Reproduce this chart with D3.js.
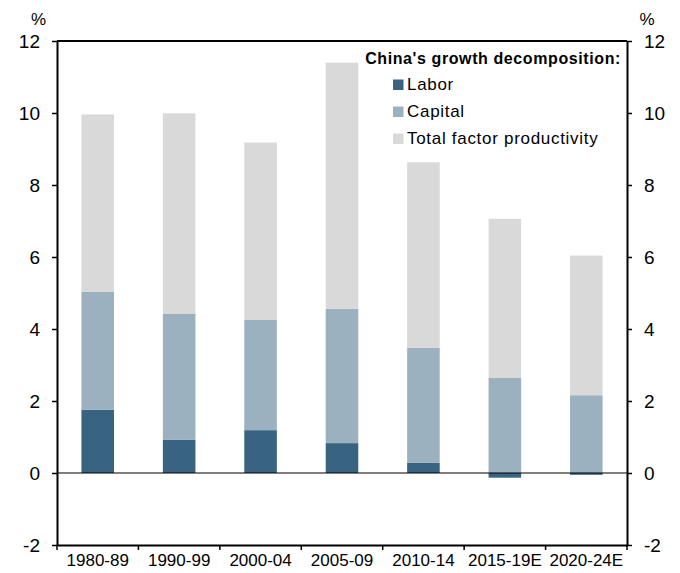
<!DOCTYPE html>
<html>
<head>
<meta charset="utf-8">
<script src="https://cdn.jsdelivr.net/npm/d3@7/dist/d3.min.js"></script>
<style>
  body { margin: 0; background: #fff; }
  svg { display: block; font-family: "Liberation Sans", Arial, sans-serif; }
</style>
</head>
<body>
<svg id="chart" width="680" height="573"></svg>
<script>
const categories = ["1980-89", "1990-99", "2000-04", "2005-09", "2010-14", "2015-19E", "2020-24E"];
const labor   = [1.76, 0.92, 1.19, 0.83, 0.28, -0.13, -0.05];
const capital = [3.27, 3.51, 3.06, 3.73, 3.20, 2.64, 2.16];
const tfp     = [4.93, 5.56, 4.93, 6.84, 5.15, 4.42, 3.88];
const yTicks  = [-2, 0, 2, 4, 6, 8, 10, 12];
const seriesNames = ["Labor", "Capital", "Total factor productivity"];
const colors = ["#386381", "#9bb1bf", "#d9d9d9"];
const legendTitle = "China's growth decomposition:";

const svg = d3.select("#chart");
const W = 680, H = 573;
const m = { top: 41, right: 53, bottom: 28, left: 57 };

const x = d3.scaleBand().domain(categories).range([m.left, W - m.right])
  .paddingInner(0.6).paddingOuter(0.3);
const xEdge = d3.scaleBand().domain(categories).range([m.left, W - m.right]).padding(0);
const y = d3.scaleLinear().domain([-2, 12]).range([H - m.bottom, m.top]);

const rows = categories.map((c, i) => ({ cat: c, Labor: labor[i], Capital: capital[i], "Total factor productivity": tfp[i] }));
const stack = d3.stack().keys(seriesNames).offset(d3.stackOffsetDiverging);
const layers = stack(rows);

const g = svg.append("g");
g.selectAll("g.layer").data(layers).join("g")
  .attr("class", "layer")
  .attr("fill", (d, i) => colors[i])
  .selectAll("rect").data(d => d).join("rect")
  .attr("x", d => x(d.data.cat))
  .attr("width", x.bandwidth())
  .attr("y", d => y(Math.max(d[0], d[1])))
  .attr("height", d => Math.abs(y(d[0]) - y(d[1])));

// zero line
svg.append("line")
  .attr("x1", m.left).attr("x2", W - m.right)
  .attr("y1", y(0)).attr("y2", y(0))
  .attr("stroke", "#000").attr("stroke-width", 1.2);

// top border
svg.append("line")
  .attr("x1", m.left).attr("x2", W - m.right)
  .attr("y1", y(12)).attr("y2", y(12))
  .attr("stroke", "#000").attr("stroke-width", 2);

const fmt = d => String(d);
function styleAxis(sel, size) {
  sel.select(".domain").attr("stroke", "#000").attr("stroke-width", 2);
  sel.selectAll(".tick line").attr("stroke", "#000").attr("stroke-width", 1.5);
  sel.selectAll(".tick text").attr("fill", "#000").attr("font-size", size)
    .attr("font-family", "'Liberation Sans', Arial, sans-serif");
}
const yl = svg.append("g").attr("transform", `translate(${m.left},0)`)
  .call(d3.axisLeft(y).tickValues(yTicks).tickFormat(fmt).tickSize(5).tickSizeOuter(0).tickPadding(12));
styleAxis(yl, "19px");
const yr = svg.append("g").attr("transform", `translate(${W - m.right},0)`)
  .call(d3.axisRight(y).tickValues(yTicks).tickFormat(fmt).tickSize(5).tickSizeOuter(0).tickPadding(12));
styleAxis(yr, "19px");

const xa = svg.append("g").attr("transform", `translate(0,${H - m.bottom})`)
  .call(d3.axisBottom(xEdge).tickSize(0).tickPadding(9));
styleAxis(xa, "17px");
const edges = categories.map(c => xEdge(c)).concat([xEdge.range()[1]]);
svg.append("g").selectAll("line").data(edges).join("line")
  .attr("x1", d => d).attr("x2", d => d)
  .attr("y1", H - m.bottom).attr("y2", H - m.bottom + 5)
  .attr("stroke", "#000").attr("stroke-width", 1.5);

// % labels
svg.append("text").attr("x", 38.5).attr("y", 25).attr("text-anchor", "middle")
  .attr("font-size", "17px").text("%");
svg.append("text").attr("x", 647).attr("y", 25).attr("text-anchor", "middle")
  .attr("font-size", "17px").text("%");

// legend
const lg = svg.append("g");
lg.append("text").attr("x", 621).attr("y", 64).attr("text-anchor", "end")
  .attr("font-weight", "bold").attr("font-size", "16px").attr("letter-spacing", "0.6px")
  .text(legendTitle);
const li = lg.selectAll("g.item").data(seriesNames).join("g").attr("class", "item")
  .attr("transform", (d, i) => `translate(393,${90 + i * 27})`);
li.append("rect").attr("x", 0).attr("y", -10.5).attr("width", 10.5).attr("height", 10.5)
  .attr("fill", (d, i) => colors[i]);
li.append("text").attr("x", 14).attr("y", 0).attr("font-size", "17px").attr("letter-spacing", "0.7px")
  .text(d => d);
</script>
</body>
</html>
